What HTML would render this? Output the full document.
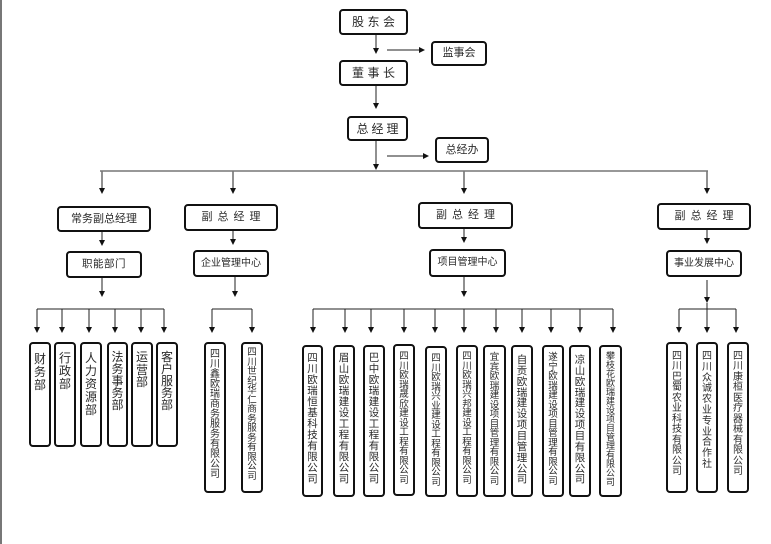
<!DOCTYPE html>
<html><head><meta charset="utf-8">
<style>
html,body{margin:0;padding:0;background:#fff;}
body{width:771px;height:544px;position:relative;overflow:hidden;font-family:"Liberation Sans","Noto Sans CJK SC",sans-serif;color:#2a2a2a;}
.b{position:absolute;box-sizing:border-box;border:2px solid #111;border-radius:4px;background:#fff;display:flex;align-items:center;justify-content:center;white-space:nowrap;line-height:1;}
.v{position:absolute;box-sizing:border-box;border:2px solid #111;border-radius:4px;background:#fff;}
.t{position:absolute;left:0;right:0;display:flex;flex-direction:column;justify-content:space-between;align-items:center;}
.t span{display:block;line-height:1;height:1em;}
svg{position:absolute;left:0;top:0;}
</style></head><body>
<svg width="771" height="544" viewBox="0 0 771 544">
<rect x="0" y="0" width="2" height="544" fill="#777"/>
<g stroke="#222" stroke-width="1" fill="none">
<line x1="376" y1="35" x2="376" y2="49"/>
<line x1="376" y1="86" x2="376" y2="104"/>
<line x1="376" y1="141" x2="376" y2="165"/>
<line x1="387" y1="50" x2="420" y2="50"/>
<line x1="387" y1="156" x2="424" y2="156"/>
<line x1="102" y1="171" x2="102" y2="189"/>
<line x1="233" y1="171" x2="233" y2="189"/>
<line x1="464" y1="171" x2="464" y2="189"/>
<line x1="707" y1="171" x2="707" y2="189"/>
<line x1="102" y1="232" x2="102" y2="241"/>
<line x1="233" y1="231" x2="233" y2="240"/>
<line x1="464" y1="229" x2="464" y2="238"/>
<line x1="707" y1="230" x2="707" y2="239"/>
<line x1="102" y1="278" x2="102" y2="292"/>
<line x1="235" y1="277" x2="235" y2="292"/>
<line x1="464" y1="277" x2="464" y2="292"/>
<line x1="707" y1="280" x2="707" y2="298"/>
<line x1="37" y1="309" x2="164" y2="309"/>
<line x1="212" y1="309" x2="252" y2="309"/>
<line x1="313" y1="309" x2="613" y2="309"/>
<line x1="679" y1="309" x2="736" y2="309"/>
<line x1="707" y1="303" x2="707" y2="309"/>
<line x1="37" y1="309" x2="37" y2="328"/><line x1="62" y1="309" x2="62" y2="328"/><line x1="89" y1="309" x2="89" y2="328"/><line x1="115" y1="309" x2="115" y2="328"/><line x1="141" y1="309" x2="141" y2="328"/><line x1="164" y1="309" x2="164" y2="328"/>
<line x1="212" y1="309" x2="212" y2="328"/><line x1="252" y1="309" x2="252" y2="328"/>
<line x1="313" y1="309" x2="313" y2="328"/><line x1="345" y1="309" x2="345" y2="328"/><line x1="371" y1="309" x2="371" y2="328"/><line x1="404" y1="309" x2="404" y2="328"/><line x1="435" y1="309" x2="435" y2="328"/><line x1="464" y1="309" x2="464" y2="328"/><line x1="496" y1="309" x2="496" y2="328"/><line x1="522" y1="309" x2="522" y2="328"/><line x1="551" y1="309" x2="551" y2="328"/><line x1="580" y1="309" x2="580" y2="328"/><line x1="613" y1="309" x2="613" y2="328"/>
<line x1="679" y1="309" x2="679" y2="328"/><line x1="707" y1="309" x2="707" y2="328"/><line x1="736" y1="309" x2="736" y2="328"/>
</g>
<line x1="100" y1="171" x2="708" y2="171" stroke="#777" stroke-width="1.5"/>
<g fill="#111">
<polygon points="373,48 379,48 376,54"/>
<polygon points="373,103 379,103 376,109"/>
<polygon points="373,164 379,164 376,170"/>
<polygon points="419,47 419,53 425,50"/>
<polygon points="423,153 423,159 429,156"/>
<polygon points="99,188 105,188 102,194"/>
<polygon points="230,188 236,188 233,194"/>
<polygon points="461,188 467,188 464,194"/>
<polygon points="704,188 710,188 707,194"/>
<polygon points="99,240 105,240 102,246"/>
<polygon points="230,239 236,239 233,245"/>
<polygon points="461,237 467,237 464,243"/>
<polygon points="704,238 710,238 707,244"/>
<polygon points="99,291 105,291 102,297"/>
<polygon points="232,291 238,291 235,297"/>
<polygon points="461,291 467,291 464,297"/>
<polygon points="704,297 710,297 707,303"/>
<polygon points="34,327 40,327 37,333"/><polygon points="59,327 65,327 62,333"/><polygon points="86,327 92,327 89,333"/><polygon points="112,327 118,327 115,333"/><polygon points="138,327 144,327 141,333"/><polygon points="161,327 167,327 164,333"/>
<polygon points="209,327 215,327 212,333"/><polygon points="249,327 255,327 252,333"/>
<polygon points="310,327 316,327 313,333"/><polygon points="342,327 348,327 345,333"/><polygon points="368,327 374,327 371,333"/><polygon points="401,327 407,327 404,333"/><polygon points="432,327 438,327 435,333"/><polygon points="461,327 467,327 464,333"/><polygon points="493,327 499,327 496,333"/><polygon points="519,327 525,327 522,333"/><polygon points="548,327 554,327 551,333"/><polygon points="577,327 583,327 580,333"/><polygon points="610,327 616,327 613,333"/>
<polygon points="676,327 682,327 679,333"/><polygon points="704,327 710,327 707,333"/><polygon points="733,327 739,327 736,333"/>
</g>
</svg>

<!-- top boxes -->
<div class="b" style="left:339px;top:9px;width:69px;height:26px;font-size:12px;letter-spacing:3.5px;padding-left:3.5px;">股东会</div>
<div class="b" style="left:431px;top:41px;width:56px;height:25px;font-size:11px;">监事会</div>
<div class="b" style="left:339px;top:60px;width:69px;height:26px;font-size:12px;letter-spacing:3.5px;padding-left:3.5px;">董事长</div>
<div class="b" style="left:347px;top:116px;width:61px;height:25px;font-size:12px;letter-spacing:3px;padding-left:3px;">总经理</div>
<div class="b" style="left:435px;top:137px;width:54px;height:26px;font-size:11px;">总经办</div>

<!-- row 2 -->
<div class="b" style="left:57px;top:206px;width:94px;height:26px;font-size:11px;">常务副总经理</div>
<div class="b" style="left:184px;top:204px;width:94px;height:27px;font-size:11px;letter-spacing:5px;padding-left:5px;">副总经理</div>
<div class="b" style="left:418px;top:202px;width:95px;height:27px;font-size:11px;letter-spacing:5px;padding-left:5px;">副总经理</div>
<div class="b" style="left:657px;top:203px;width:94px;height:27px;font-size:11px;letter-spacing:5px;padding-left:5px;">副总经理</div>

<!-- row 3 -->
<div class="b" style="left:66px;top:251px;width:76px;height:27px;font-size:10.5px;letter-spacing:0.5px;">职能部门</div>
<div class="b" style="left:193px;top:250px;width:76px;height:27px;font-size:10px;">企业管理中心</div>
<div class="b" style="left:429px;top:249px;width:77px;height:28px;font-size:10px;">项目管理中心</div>
<div class="b" style="left:666px;top:250px;width:76px;height:27px;font-size:10px;">事业发展中心</div>

<!-- group 1 -->
<div class="v" style="left:29px;top:342px;width:22px;height:105px;"><div class="t" style="top:9px;height:38px;font-size:12px;"><span>财</span><span>务</span><span>部</span></div></div>
<div class="v" style="left:54px;top:342px;width:22px;height:105px;"><div class="t" style="top:8px;height:38px;font-size:12px;"><span>行</span><span>政</span><span>部</span></div></div>
<div class="v" style="left:80px;top:342px;width:22px;height:105px;"><div class="t" style="top:8px;height:64px;font-size:12px;"><span>人</span><span>力</span><span>资</span><span>源</span><span>部</span></div></div>
<div class="v" style="left:107px;top:342px;width:21px;height:105px;"><div class="t" style="top:7px;height:60px;font-size:12px;"><span>法</span><span>务</span><span>事</span><span>务</span><span>部</span></div></div>
<div class="v" style="left:131px;top:342px;width:22px;height:105px;"><div class="t" style="top:7px;height:37px;font-size:12px;"><span>运</span><span>营</span><span>部</span></div></div>
<div class="v" style="left:156px;top:342px;width:22px;height:105px;"><div class="t" style="top:7px;height:60px;font-size:12px;"><span>客</span><span>户</span><span>服</span><span>务</span><span>部</span></div></div>

<!-- group 2 -->
<div class="v" style="left:204px;top:342px;width:22px;height:151px;"><div class="t" style="top:6px;height:130px;font-size:10px;"><span>四</span><span>川</span><span>鑫</span><span>欧</span><span>瑞</span><span>商</span><span>务</span><span>服</span><span>务</span><span>有</span><span>限</span><span>公</span><span>司</span></div></div>
<div class="v" style="left:241px;top:342px;width:22px;height:151px;"><div class="t" style="top:4px;height:128px;font-size:9.5px;"><span>四</span><span>川</span><span>世</span><span>纪</span><span>华</span><span>仁</span><span>商</span><span>务</span><span>服</span><span>务</span><span>有</span><span>限</span><span>公</span><span>司</span></div></div>

<!-- group 3 -->
<div class="v" style="left:302px;top:345px;width:21px;height:152px;"><div class="t" style="top:6px;height:132px;font-size:10.5px;"><span>四</span><span>川</span><span>欧</span><span>瑞</span><span>恒</span><span>基</span><span>科</span><span>技</span><span>有</span><span>限</span><span>公</span><span>司</span></div></div>
<div class="v" style="left:333px;top:345px;width:22px;height:152px;"><div class="t" style="top:6px;height:132px;font-size:10.5px;"><span>眉</span><span>山</span><span>欧</span><span>瑞</span><span>建</span><span>设</span><span>工</span><span>程</span><span>有</span><span>限</span><span>公</span><span>司</span></div></div>
<div class="v" style="left:363px;top:345px;width:22px;height:152px;"><div class="t" style="top:6px;height:132px;font-size:10.5px;"><span>巴</span><span>中</span><span>欧</span><span>瑞</span><span>建</span><span>设</span><span>工</span><span>程</span><span>有</span><span>限</span><span>公</span><span>司</span></div></div>
<div class="v" style="left:393px;top:344px;width:22px;height:152px;"><div class="t" style="top:6px;height:127px;font-size:9.5px;"><span>四</span><span>川</span><span>欧</span><span>瑞</span><span>晟</span><span>欣</span><span>建</span><span>设</span><span>工</span><span>程</span><span>有</span><span>限</span><span>公</span><span>司</span></div></div>
<div class="v" style="left:425px;top:346px;width:22px;height:151px;"><div class="t" style="top:6px;height:128px;font-size:9.5px;"><span>四</span><span>川</span><span>欧</span><span>瑞</span><span>兴</span><span>业</span><span>建</span><span>设</span><span>工</span><span>程</span><span>有</span><span>限</span><span>公</span><span>司</span></div></div>
<div class="v" style="left:456px;top:345px;width:22px;height:152px;"><div class="t" style="top:5px;height:127px;font-size:9.5px;"><span>四</span><span>川</span><span>欧</span><span>瑞</span><span>兴</span><span>邦</span><span>建</span><span>设</span><span>工</span><span>程</span><span>有</span><span>限</span><span>公</span><span>司</span></div></div>
<div class="v" style="left:483px;top:345px;width:23px;height:152px;"><div class="t" style="top:6px;height:129px;font-size:9.5px;"><span>宜</span><span>宾</span><span>欧</span><span>瑞</span><span>建</span><span>设</span><span>项</span><span>目</span><span>管</span><span>理</span><span>有</span><span>限</span><span>公</span><span>司</span></div></div>
<div class="v" style="left:511px;top:345px;width:22px;height:152px;"><div class="t" style="top:8px;height:130px;font-size:10.5px;"><span>自</span><span>贡</span><span>欧</span><span>瑞</span><span>建</span><span>设</span><span>项</span><span>目</span><span>管</span><span>理</span><span>公</span><span>司</span></div></div>
<div class="v" style="left:542px;top:345px;width:22px;height:152px;"><div class="t" style="top:6px;height:128px;font-size:9.5px;"><span>遂</span><span>宁</span><span>欧</span><span>瑞</span><span>建</span><span>设</span><span>项</span><span>目</span><span>管</span><span>理</span><span>有</span><span>限</span><span>公</span><span>司</span></div></div>
<div class="v" style="left:569px;top:345px;width:22px;height:152px;"><div class="t" style="top:8px;height:130px;font-size:10.5px;"><span>凉</span><span>山</span><span>欧</span><span>瑞</span><span>建</span><span>设</span><span>项</span><span>目</span><span>有</span><span>限</span><span>公</span><span>司</span></div></div>
<div class="v" style="left:599px;top:345px;width:23px;height:152px;"><div class="t" style="top:5px;height:132px;font-size:9px;"><span>攀</span><span>枝</span><span>花</span><span>欧</span><span>瑞</span><span>建</span><span>设</span><span>项</span><span>目</span><span>管</span><span>理</span><span>有</span><span>限</span><span>公</span><span>司</span></div></div>

<!-- group 4 -->
<div class="v" style="left:666px;top:342px;width:22px;height:151px;"><div class="t" style="top:8px;height:125px;font-size:10px;"><span>四</span><span>川</span><span>巴</span><span>蜀</span><span>农</span><span>业</span><span>科</span><span>技</span><span>有</span><span>限</span><span>公</span><span>司</span></div></div>
<div class="v" style="left:696px;top:342px;width:22px;height:151px;"><div class="t" style="top:8px;height:118px;font-size:10px;"><span>四</span><span>川</span><span>众</span><span>诚</span><span>农</span><span>业</span><span>专</span><span>业</span><span>合</span><span>作</span><span>社</span></div></div>
<div class="v" style="left:727px;top:342px;width:22px;height:151px;"><div class="t" style="top:8px;height:125px;font-size:10px;"><span>四</span><span>川</span><span>康</span><span>桓</span><span>医</span><span>疗</span><span>器</span><span>械</span><span>有</span><span>限</span><span>公</span><span>司</span></div></div>

</body></html>
